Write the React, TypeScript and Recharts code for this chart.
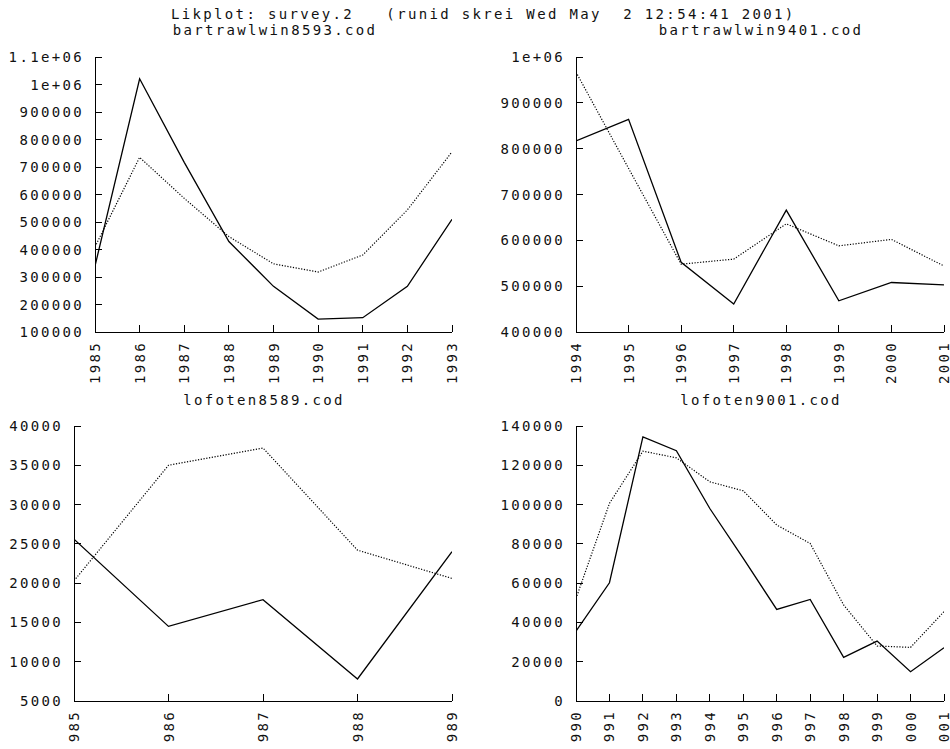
import React from 'react';
import { LineChart, Line, XAxis, YAxis } from 'recharts';

const FONT = '"DejaVu Sans Mono", "Liberation Mono", monospace';
const FS = 14;
const LS = 2.34;

const mainTitle = 'Likplot: survey.2   (runid skrei Wed May  2 12:54:41 2001)';

// Panel A: bartrawlwin8593.cod
const titleA = 'bartrawlwin8593.cod';
const yearsA = [1985, 1986, 1987, 1988, 1989, 1990, 1991, 1992, 1993];
const solidA = [340000, 1021000, 717000, 429000, 266000, 147000, 152000, 266000, 510000];
const dottedA = [410000, 735000, 586000, 447000, 348000, 318000, 380000, 544000, 755000];
const yTicksA = [100000, 200000, 300000, 400000, 500000, 600000, 700000, 800000, 900000, 1000000, 1100000];
const yLabelsA = ['100000', '200000', '300000', '400000', '500000', '600000', '700000', '800000', '900000', '1e+06', '1.1e+06'];

// Panel B: bartrawlwin9401.cod
const titleB = 'bartrawlwin9401.cod';
const yearsB = [1994, 1995, 1996, 1997, 1998, 1999, 2000, 2001];
const solidB = [817000, 864000, 552000, 461000, 666000, 468000, 508000, 503000];
const dottedB = [967000, 757000, 548000, 559000, 636000, 588000, 602000, 544000];
const yTicksB = [400000, 500000, 600000, 700000, 800000, 900000, 1000000];
const yLabelsB = ['400000', '500000', '600000', '700000', '800000', '900000', '1e+06'];

// Panel C: lofoten8589.cod
const titleC = 'lofoten8589.cod';
const yearsC = [1985, 1986, 1987, 1988, 1989];
const solidC = [25600, 14500, 17900, 7800, 24000];
const dottedC = [20300, 35000, 37200, 24200, 20600];
const yTicksC = [5000, 10000, 15000, 20000, 25000, 30000, 35000, 40000];
const yLabelsC = ['5000', '10000', '15000', '20000', '25000', '30000', '35000', '40000'];

// Panel D: lofoten9001.cod
const titleD = 'lofoten9001.cod';
const yearsD = [1990, 1991, 1992, 1993, 1994, 1995, 1996, 1997, 1998, 1999, 2000, 2001];
const solidD = [35600, 60200, 134500, 127400, 98000, 72600, 46600, 51700, 22200, 30500, 14900, 27100];
const dottedD = [52200, 100600, 127200, 123800, 111600, 107000, 89600, 80200, 48900, 28000, 27300, 45500];
const yTicksD = [0, 20000, 40000, 60000, 80000, 100000, 120000, 140000];
const yLabelsD = ['0', '20000', '40000', '60000', '80000', '100000', '120000', '140000'];

const buildRows = (years: number[], solid: number[], dotted: number[]) =>
  years.map((year, i) => ({ year, solid: solid[i], dotted: dotted[i] }));

const textStyle: React.CSSProperties = {
  fontFamily: FONT,
  fontSize: FS,
  letterSpacing: LS,
  fill: '#111',
};

const axisLineStyle = { stroke: '#000', strokeWidth: 1, shapeRendering: 'crispEdges' as const };

type PanelProps = {
  left: number;
  top: number;
  width: number;
  height: number;
  marginTop: number;
  marginRight: number;
  yAxisWidth: number;
  xAxisHeight: number;
  years: number[];
  solid: number[];
  dotted: number[];
  yTicks: number[];
  yLabels: string[];
};

function Panel(p: PanelProps) {
  const rows = buildRows(p.years, p.solid, p.dotted);
  const xDomain = [p.years[0], p.years[p.years.length - 1]];
  const yDomain = [p.yTicks[0], p.yTicks[p.yTicks.length - 1]];

  const bottomTick = (props: any) => {
    const { x, y, payload } = props;
    return (
      <g>
        <line x1={x} y1={y} x2={x} y2={y - 7} stroke="#000" shapeRendering="crispEdges" />
        <text
          x={x + 5}
          y={y + 9}
          textAnchor="end"
          transform={`rotate(-90, ${x + 5}, ${y + 9})`}
          style={textStyle}
        >
          {String(payload.value)}
        </text>
      </g>
    );
  };
  const topTick = (props: any) => {
    const { x, y } = props;
    return <line x1={x} y1={y} x2={x} y2={y + 7} stroke="#000" shapeRendering="crispEdges" />;
  };
  const leftTick = (props: any) => {
    const { x, y, payload } = props;
    const idx = p.yTicks.indexOf(payload.value);
    return (
      <g>
        <line x1={x} y1={y} x2={x + 7} y2={y} stroke="#000" shapeRendering="crispEdges" />
        <text x={x - 11} y={y + 5} textAnchor="end" style={textStyle}>
          {idx >= 0 ? p.yLabels[idx] : String(payload.value)}
        </text>
      </g>
    );
  };
  const rightTick = (props: any) => {
    const { x, y } = props;
    return <line x1={x} y1={y} x2={x - 7} y2={y} stroke="#000" shapeRendering="crispEdges" />;
  };

  return (
    <div style={{ position: 'absolute', left: p.left, top: p.top, width: p.width, height: p.height, overflow: 'hidden' }}>
      <LineChart
        width={p.width}
        height={p.height}
        data={rows}
        margin={{ top: p.marginTop, right: p.marginRight, bottom: 0, left: 0 }}
      >
        <XAxis
          xAxisId="b"
          dataKey="year"
          type="number"
          orientation="bottom"
          domain={xDomain}
          ticks={p.years}
          interval={0}
          allowDataOverflow
          height={p.xAxisHeight}
          tickSize={0}
          tickMargin={0}
          tickLine={false}
          axisLine={axisLineStyle}
          tick={bottomTick}
        />
        <XAxis
          xAxisId="t"
          dataKey="year"
          type="number"
          orientation="top"
          domain={xDomain}
          ticks={p.years}
          interval={0}
          allowDataOverflow
          height={0}
          tickSize={0}
          tickMargin={0}
          tickLine={false}
          axisLine={axisLineStyle}
          tick={topTick}
        />
        <YAxis
          yAxisId="l"
          type="number"
          orientation="left"
          domain={yDomain}
          ticks={p.yTicks}
          interval={0}
          allowDataOverflow
          width={p.yAxisWidth}
          tickSize={0}
          tickMargin={0}
          tickLine={false}
          axisLine={axisLineStyle}
          tick={leftTick}
        />
        <YAxis
          yAxisId="r"
          type="number"
          orientation="right"
          domain={yDomain}
          ticks={p.yTicks}
          interval={0}
          allowDataOverflow
          width={0}
          tickSize={0}
          tickMargin={0}
          tickLine={false}
          axisLine={axisLineStyle}
          tick={rightTick}
        />
        <Line
          xAxisId="b"
          yAxisId="l"
          type="linear"
          dataKey="dotted"
          stroke="#000"
          strokeWidth={1.2}
          strokeDasharray="1.2 1.6"
          dot={false}
          activeDot={false}
          isAnimationActive={false}
        />
        <Line
          xAxisId="b"
          yAxisId="l"
          type="linear"
          dataKey="solid"
          stroke="#000"
          strokeWidth={1.3}
          dot={false}
          activeDot={false}
          isAnimationActive={false}
        />
      </LineChart>
    </div>
  );
}

export default function App() {
  return (
    <div style={{ position: 'absolute', left: 0, top: 0, width: 950, height: 749, background: '#fff', overflow: 'hidden' }}>
      <Panel
        left={0} top={0} width={475} height={395}
        marginTop={57} marginRight={23} yAxisWidth={95} xAxisHeight={63}
        years={yearsA} solid={solidA} dotted={dottedA} yTicks={yTicksA} yLabels={yLabelsA}
      />
      <Panel
        left={475} top={0} width={475} height={395}
        marginTop={57} marginRight={6} yAxisWidth={101} xAxisHeight={63}
        years={yearsB} solid={solidB} dotted={dottedB} yTicks={yTicksB} yLabels={yLabelsB}
      />
      <Panel
        left={0} top={380} width={475} height={362}
        marginTop={46} marginRight={23} yAxisWidth={74} xAxisHeight={41}
        years={yearsC} solid={solidC} dotted={dottedC} yTicks={yTicksC} yLabels={yLabelsC}
      />
      <Panel
        left={475} top={380} width={475} height={362}
        marginTop={46} marginRight={6} yAxisWidth={101} xAxisHeight={41}
        years={yearsD} solid={solidD} dotted={dottedD} yTicks={yTicksD} yLabels={yLabelsD}
      />
      <svg width={950} height={749} style={{ position: 'absolute', left: 0, top: 0, pointerEvents: 'none' }}>
        <text x={171} y={19} style={{ ...textStyle, whiteSpace: 'pre' }}>{mainTitle}</text>
        <text x={275} y={35} textAnchor="middle" style={textStyle}>{titleA}</text>
        <text x={761} y={35} textAnchor="middle" style={textStyle}>{titleB}</text>
        <text x={264} y={405} textAnchor="middle" style={textStyle}>{titleC}</text>
        <text x={761} y={405} textAnchor="middle" style={textStyle}>{titleD}</text>
      </svg>
    </div>
  );
}
